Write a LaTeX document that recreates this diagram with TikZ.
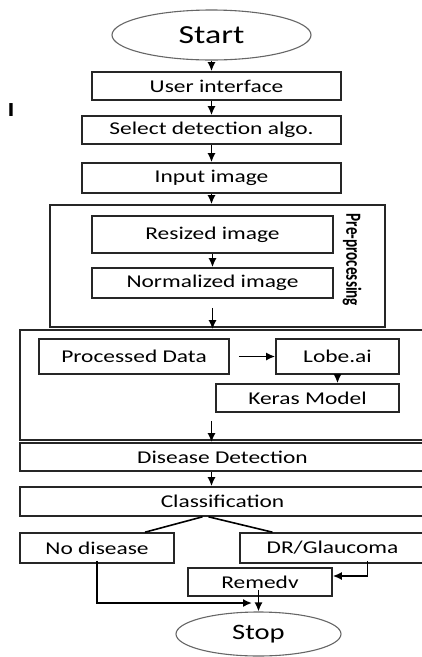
\documentclass[tikz,border=0pt]{standalone}
\usepackage{fontspec}
\newfontfamily\flowfont[FakeStretch=1.3]{Carlito}
\newfontfamily\sidefont{Carlito}
\usetikzlibrary{positioning, arrows.meta, shapes.geometric}

\begin{document}
\begin{tikzpicture}[
    x=1pt, y=-1pt,
    every node/.style={inner sep=0pt, text=black},
    box/.style={draw=black!85, line width=1.6pt, rectangle, font=\flowfont\fontsize{18}{20}\selectfont},
    frame/.style={draw=black!85, line width=1.6pt, rectangle},
    terminal/.style={draw=black!60, line width=1.1pt, ellipse, font=\flowfont\fontsize{26}{28}\selectfont},
    arrow/.style={-{Latex[length=9pt,width=8pt]}, line width=1.6pt, draw=black},
    line/.style={line width=1.6pt, draw=black}
]
\useasboundingbox (0,0) rectangle (422,657);

% containers
\node[frame, minimum width=335pt, minimum height=122pt] (pre) at (217.5,266) {};
\node[frame, minimum width=405pt, minimum height=110pt] (model) at (222.5,385) {};

\node[terminal, minimum width=199pt, minimum height=50pt] (start) at (211.5,35) {Start};
\node[font=\sidefont\bfseries\fontsize{20}{22}\selectfont] (mark) at (11,110) {\scalebox{1.3}[1]{I}};
\node[box, minimum width=249pt, minimum height=28pt] (ui) at (216.5,86) {User interface};
\node[box, minimum width=259pt, minimum height=28pt] (algo) at (211.5,130) {Select detection algo.};
\node[box, minimum width=259pt, minimum height=30pt] (input) at (211.5,178) {Input image};

\node[box, minimum width=241pt, minimum height=37pt] (resized) at (212.5,234.5) {Resized image};
\node[box, minimum width=241pt, minimum height=30pt] (norm) at (212.5,283) {Normalized image};
\node[rotate=-90, font=\sidefont\bfseries\fontsize{16}{18}\selectfont] (prelabel) at (352,260) {\scalebox{0.95}[1.35]{Pre-processing}};

\node[box, minimum width=190pt, minimum height=35pt] (proc) at (134,356.5) {Processed Data};
\node[box, minimum width=123pt, minimum height=35pt] (lobe) at (337.5,356.5) {Lobe.ai};
\node[box, minimum width=183pt, minimum height=28pt] (keras) at (307.5,398) {Keras Model};

\node[box, minimum width=405pt, minimum height=28pt] (disease) at (222.5,457) {Disease Detection};
\node[box, minimum width=405pt, minimum height=29pt] (classif) at (222.5,501.5) {Classification};
\node[box, minimum width=154pt, minimum height=30pt] (nodis) at (97,548) {No disease};
\node[box, minimum width=185pt, minimum height=30pt] (drg) at (332.5,548) {DR/Glaucoma};
\node[box, minimum width=144pt, minimum height=28pt] (remedy) at (260,582) {Remedv};
\node[terminal, minimum width=165pt, minimum height=44pt, font=\flowfont\fontsize{22}{24}\selectfont] (stop) at (258.5,634) {Stop};
\coordinate (join) at (252,603);

\draw[arrow] (start.south) -- (start.south |- ui.north);
\draw[arrow] (algo.north |- ui.south) -- (algo.north);
\draw[arrow] (algo.south) -- (input.north);
\draw[arrow] (input.south) -- (input.south |- pre.north);
\draw[arrow] (resized.south) -- (norm.north);
\draw[arrow] ([yshift=-9pt]norm.south) -- (norm.south |- model.north);
\draw[arrow] ([xshift=9pt]proc.east) -- (lobe.west);
\draw[arrow] (lobe.south) -- (lobe.south |- keras.north);
\draw[arrow] (input.south |- model.south) ++(0,-20) -- (input.south |- disease.north);
\draw[arrow] (input.south |- disease.south) -- (input.south |- classif.north);
\draw[line] ([xshift=-20pt]classif.south) -- ([xshift=48pt]nodis.north);
\draw[line] ([xshift=-14pt]classif.south) -- ([xshift=-60pt]drg.north);
\draw[arrow] ([xshift=35pt,yshift=3pt]drg.south) |- ([yshift=6pt]remedy.east);
\draw[arrow] ([yshift=3pt]nodis.south) |- (join);
\draw[arrow] (stop.north |- remedy.south) ++(0,-7) -- (stop.north);

\end{tikzpicture}
\end{document}
